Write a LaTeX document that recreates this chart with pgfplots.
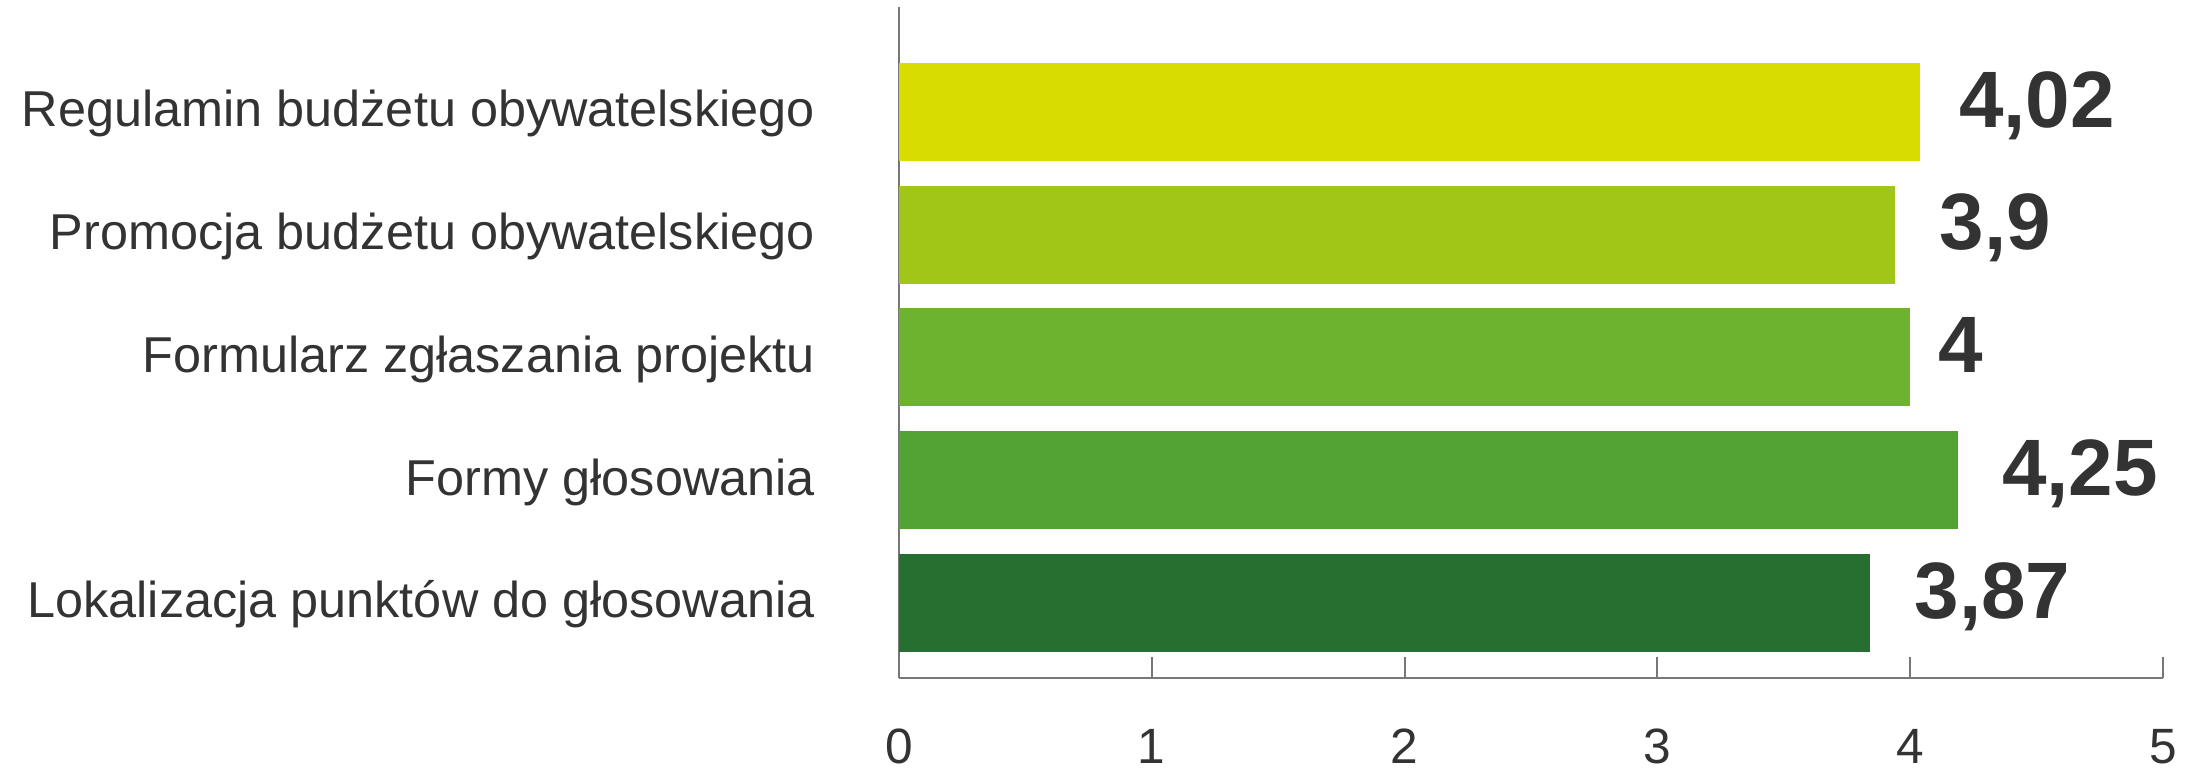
\documentclass[border=0pt]{standalone}
\usepackage{pgfplots}
\pgfplotsset{compat=1.18}
\usepackage{fontspec}
\setmainfont{Liberation Sans}
\definecolor{c1}{HTML}{D9DC00}
\definecolor{c2}{HTML}{A2C617}
\definecolor{c3}{HTML}{6DB330}
\definecolor{c4}{HTML}{53A334}
\definecolor{c5}{HTML}{276E31}
\definecolor{txt}{HTML}{333333}
\definecolor{axc}{HTML}{777777}
\begin{document}
\begin{tikzpicture}
\path[use as bounding box] (-224.75pt,-23.25pt) rectangle (323.5pt,169.5pt);
\begin{axis}[
  at={(0,0)}, anchor=south west,
  scale only axis, width=316pt, height=167.75pt,
  xmin=0, xmax=5, ymin=-0.611, ymax=4.855,
  clip=false,
  axis x line=bottom, axis y line=left,
  axis line style={-, draw=axc, line width=0.5pt},
  xtick={0,1,2,3,4,5}, xtick align=inside, major tick length=5.25pt,
  xtick style={draw=axc, line width=0.5pt},
  ytick={0,1,2,3,4},
  yticklabels={Lokalizacja punktów do głosowania, Formy głosowania, Formularz zgłaszania projektu, Promocja budżetu obywatelskiego, Regulamin budżetu obywatelskiego},
  ytick style={draw=none},
  /pgf/number format/assume math mode=true,
  xticklabel style={font=\fontsize{12.4pt}{14pt}\selectfont, text=txt, anchor=north, inner sep=0pt, yshift=-12.6pt},
  yticklabel style={font=\fontsize{12.6pt}{15pt}\selectfont, text=txt, anchor=base east, inner sep=0pt, xshift=-15.6pt, yshift=-3.75pt},
  xbar, bar width=24.5pt, bar shift=0pt,
  nodes near coords, point meta=explicit symbolic,
  every node near coord/.append style={font=\bfseries\fontsize{20pt}{23pt}\selectfont, text=txt, anchor=base west, inner sep=0pt, yshift=-3.8pt},
]
\addplot[fill=c5, draw=none, every node near coord/.append style={xshift=11pt}] coordinates {(3.84,0) [3,87]};
\addplot[fill=c4, draw=none, every node near coord/.append style={xshift=10.75pt}] coordinates {(4.19,1) [4,25]};
\addplot[fill=c3, draw=none, every node near coord/.append style={xshift=7pt}] coordinates {(4.00,2) [4]};
\addplot[fill=c2, draw=none, every node near coord/.append style={xshift=11pt}] coordinates {(3.94,3) [3,9]};
\addplot[fill=c1, draw=none, every node near coord/.append style={xshift=9.5pt}] coordinates {(4.04,4) [4,02]};
\end{axis}
\end{tikzpicture}
\end{document}
